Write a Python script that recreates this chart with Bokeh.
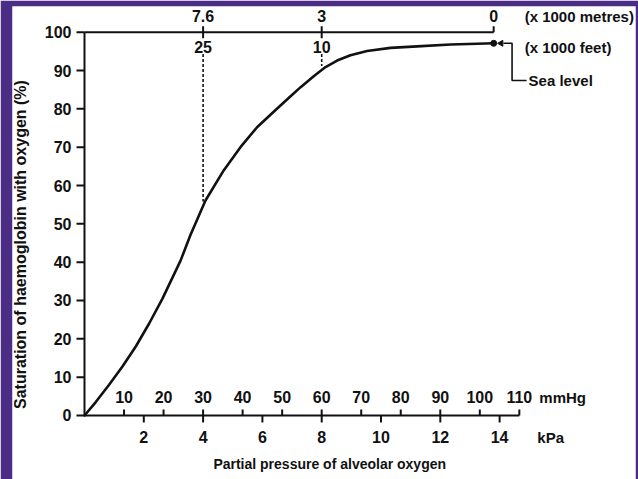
import numpy as np
from bokeh.plotting import figure
from bokeh.models import Range1d
from bokeh.core.properties import value
from bokeh.embed import file_html
from bokeh.resources import INLINE

# ---- data ----
kpa = [0, 0.38, 0.83, 1.28, 1.73, 2.18, 2.63, 3.24, 3.57, 4.08, 4.7, 5.26, 5.82,
       6.39, 6.95, 7.28, 7.73, 8.13, 8.52, 8.97, 9.53, 10.32, 11.22, 12.34, 13.24, 13.8]
saturation = [0, 3.5, 8.0, 12.8, 18.0, 24.0, 30.5, 40.4, 47.0, 56.1, 64.0, 70.0, 75.2,
              79.3, 83.3, 85.6, 88.5, 90.9, 92.6, 94.0, 95.1, 95.9, 96.3, 96.8, 97.0, 97.1]

sat_ticks = [0, 10, 20, 30, 40, 50, 60, 70, 80, 90, 100]
kpa_ticks = [2, 4, 6, 8, 10, 12, 14]
mmhg_ticks = [10, 20, 30, 40, 50, 60, 70, 80, 90, 100, 110]
MMHG_TO_KPA = 0.133322

alt_m_kpa = [4, 8, 13.8]
alt_m_labels = ["7.6", "3", "0"]
alt_ft_kpa = [4, 8]
alt_ft_labels = ["25", "10"]
guide_sat = [55.8, 91.2]   # curve value where the dashed guides end
guide_top = 94.3

# sea-level pointer (annotation path)
pointer_x = [14.13, 14.42, 14.42, 14.91]
pointer_y = [97.1, 97.1, 87.4, 87.4]

# axis-title anchors
y_title_at = 44.6
x_title_at = 8.27

FONT = "Liberation Sans"
INK = "#111111"
PURPLE = "#4b2d86"

p = figure(width=638, height=479,
           x_range=Range1d(-2.428, 18.583), y_range=Range1d(-16.70, 106.70),
           output_backend="svg", toolbar_location=None,
           x_axis_type=None, y_axis_type=None,
           min_border_left=12, min_border_right=3, min_border_top=6, min_border_bottom=0)
p.outline_line_color = None
p.background_fill_color = "white"
p.border_fill_color = PURPLE

num = dict(text_font=value(FONT), text_font_size="16px", text_font_style="bold", text_color=INK)
word = dict(text_font=value(FONT), text_font_size="15px", text_font_style="bold", text_color=INK)
ln = dict(line_width=2, line_color=INK)

# ---- saturation axis (left) ----
p.line(x=[0, 0], y=[sat_ticks[0], sat_ticks[-1]], **ln)
p.ray(x=[0] * len(sat_ticks), y=sat_ticks, length=8, length_units="screen", angle=np.pi, **ln)
p.text(x=[0] * len(sat_ticks), y=sat_ticks, text=[str(t) for t in sat_ticks], x_offset=-13,
       text_align="right", text_baseline="middle", **num)
p.text(x=[0], y=[y_title_at], text=["Saturation of haemoglobin with oxygen (%)"],
       x_offset=-64, angle=np.pi / 2, text_align="center", text_baseline="middle",
       text_font=value(FONT), text_font_size="16px", text_font_style="bold", text_color=INK)

# ---- pressure axis (bottom): mmHg above the line, kPa below ----
mm_x = [m * MMHG_TO_KPA for m in mmhg_ticks]
p.line(x=[0, mm_x[-1]], y=[0, 0], **ln)
p.ray(x=mm_x, y=[0] * len(mm_x), length=6, length_units="screen", angle=np.pi / 2, **ln)
p.text(x=mm_x, y=[0] * len(mm_x), text=[str(m) for m in mmhg_ticks], y_offset=-18,
       text_align="center", text_baseline="middle", **num)
p.text(x=[mm_x[-1]], y=[0], text=["mmHg"], x_offset=20, y_offset=-18,
       text_align="left", text_baseline="middle", **word)

p.ray(x=kpa_ticks, y=[0] * len(kpa_ticks), length=7, length_units="screen", angle=-np.pi / 2, **ln)
p.text(x=kpa_ticks, y=[0] * len(kpa_ticks), text=[str(k) for k in kpa_ticks], y_offset=22,
       text_align="center", text_baseline="middle", **num)
p.text(x=[mm_x[-1]], y=[0], text=["kPa"], x_offset=18, y_offset=22,
       text_align="left", text_baseline="middle", **word)
p.text(x=[x_title_at], y=[0], text=["Partial pressure of alveolar oxygen"], y_offset=49,
       text_align="center", text_baseline="middle",
       text_font=value(FONT), text_font_size="14px", text_font_style="bold", text_color=INK)

# ---- altitude scale along the top (y = 100) ----
p.line(x=[0, alt_m_kpa[-1]], y=[100, 100], **ln)
p.ray(x=alt_m_kpa, y=[100] * 3, length=6, length_units="screen", angle=np.pi / 2, **ln)
p.ray(x=alt_ft_kpa, y=[100] * 2, length=6, length_units="screen", angle=-np.pi / 2, **ln)
p.text(x=alt_m_kpa, y=[100] * 3, text=alt_m_labels, y_offset=-16,
       text_align="center", text_baseline="middle", **num)
p.text(x=alt_ft_kpa, y=[100] * 2, text=alt_ft_labels, y_offset=15,
       text_align="center", text_baseline="middle", **num)
p.text(x=[alt_m_kpa[-1]], y=[100], text=["(x 1000 metres)"], x_offset=31, y_offset=-16,
       text_align="left", text_baseline="middle", **word)
p.text(x=[alt_m_kpa[-1]], y=[100], text=["(x 1000 feet)"], x_offset=31, y_offset=15,
       text_align="left", text_baseline="middle", **word)

# dashed guides
p.segment(x0=alt_ft_kpa, y0=[guide_top] * 2, x1=alt_ft_kpa, y1=guide_sat,
          line_width=1.6, line_color=INK, line_dash="3 2")

# dissociation curve
p.line(kpa, saturation, line_width=2.6, line_color=INK, line_join="round", line_cap="round")
p.scatter([kpa[-1]], [saturation[-1]], size=6, color=INK)

# sea-level pointer
p.line(pointer_x, pointer_y, line_width=1.6, line_color=INK)
p.scatter([pointer_x[0] - 0.08], [pointer_y[0]], marker="triangle", angle=np.pi / 2,
          size=6, color=INK)
p.text(x=[pointer_x[-1]], y=[pointer_y[-1]], text=["Sea level"], x_offset=2,
       text_align="left", text_baseline="middle", **word)

open("out.html", "w").write(file_html(p, INLINE))
